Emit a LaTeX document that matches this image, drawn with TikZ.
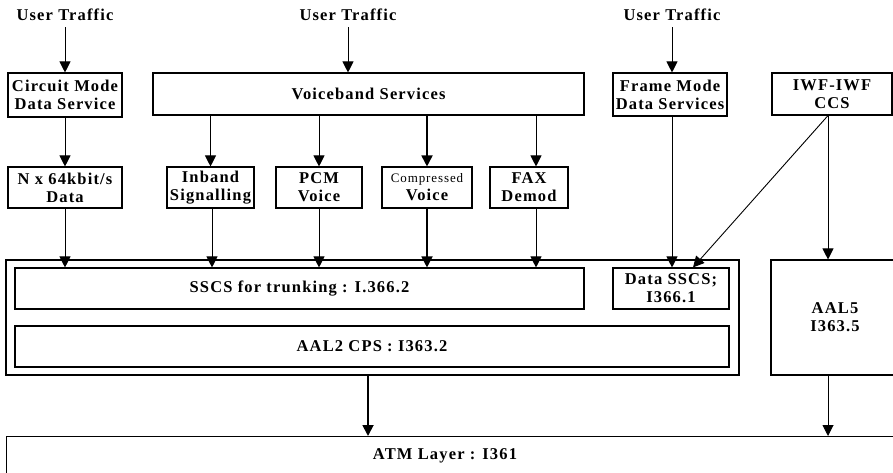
\documentclass[tikz,border=0pt]{standalone}
\usepackage{fontspec}
\setmainfont{Liberation Serif}[LetterSpace=7]
\usetikzlibrary{arrows.meta}
\begin{document}
\begin{tikzpicture}[x=1pt,y=-1pt,
  box/.style={draw,line width=1.1pt,inner sep=0pt,align=center,font=\bfseries\fontsize{16.5}{18}\selectfont},
  lbl/.style={font=\bfseries\fontsize{16.5}{18}\selectfont},
  arr/.style={line width=0.9pt,-{Triangle[length=11pt,width=11pt]}},
  tarr/.style={line width=1.8pt,-{Triangle[length=11pt,width=11pt]}}]
\useasboundingbox (0,0) rectangle (893,472);
\clip (0,0) rectangle (893,472);
% top labels
\node[lbl] (ut1) at (65,15) {User Traffic};
\node[lbl] (ut2) at (348,15) {User Traffic};
\node[lbl] (ut3) at (672,15) {User Traffic};
% row 1 boxes
\node[box,minimum width=114pt,minimum height=44pt] (cm) at (65,95) {Circuit Mode\\Data Service};
\node[box,minimum width=431pt,minimum height=42pt] (vb) at (368.5,94) {Voiceband Services};
\node[box,minimum width=114pt,minimum height=43pt] (fm) at (670,94.5) {Frame Mode\\Data Services};
\node[box,minimum width=120pt,minimum height=42pt] (iwf) at (832,94) {IWF-IWF\\CCS};
% row 2 boxes
\node[box,minimum width=114pt,minimum height=41pt] (nx) at (65,187.5) {N x 64kbit/s\\Data};
\node[box,minimum width=87pt,minimum height=41pt] (inb) at (210.5,187.5) {Inband\\Signalling};
\node[box,minimum width=86pt,minimum height=41pt] (pcm) at (319,187.5) {PCM\\Voice};
\node[box,minimum width=90pt,minimum height=41pt] (cmp) at (427,187.5) {{\mdseries\fontsize{13}{14}\selectfont Compressed}\\Voice};
\node[box,minimum width=78pt,minimum height=41pt] (fax) at (529,187.5) {FAX\\Demod};
% AAL2 block
\node[box,minimum width=733pt,minimum height=115pt] (aal2) at (372.5,317.5) {};
\node[box,minimum width=569pt,minimum height=41pt] (sscs) at (299.5,288.5) {SSCS for trunking : I.366.2};
\node[box,minimum width=714pt,minimum height=41pt] (cps) at (372,346.5) {AAL2 CPS : I363.2};
\node[box,minimum width=116pt,minimum height=41pt] (dsscs) at (671,288.5) {Data SSCS;\\I366.1};
\node[box,minimum width=128pt,minimum height=115pt] (aal5) at (835,317.5) {AAL5\\I363.5};
\node[box,minimum width=892pt,minimum height=40pt,anchor=north west] (atm) at (6,436) {};
\node[lbl] (atmt) at (445,456) {ATM Layer : I361};
% arrows
\draw[arr] (ut1.south) ++(0,3) -- (cm.north);
\draw[arr] (ut2.south) ++(0,3) -- (vb.north -| ut2);
\draw[arr] (ut3.south) ++(0,3) -- (fm.north -| ut3);
\draw[arr] (cm) -- (nx);
\draw[arr] (vb.south -| inb) -- (inb);
\draw[arr] (vb.south -| pcm) -- (pcm);
\draw[tarr] (vb.south -| cmp) -- (cmp);
\draw[arr] (vb.south -| 536,0) -- (fax.north -| 536,0);
\draw[arr] (nx) -- (sscs.north -| nx);
\draw[arr] (inb.south -| 212,0) -- (sscs.north -| 212,0);
\draw[arr] (pcm) -- (sscs.north -| pcm);
\draw[tarr] (cmp) -- (sscs.north -| cmp);
\draw[arr] (fax.south -| 536,0) -- (sscs.north -| 536,0);
\draw[arr] (fm.south -| 672,0) -- (dsscs.north -| 672,0);
\coordinate (iwfb) at (iwf.south -| 828,0);
\draw[arr] (iwfb) -- (dsscs.north -| 693,0);
\draw[arr] (iwfb) -- (aal5.north -| 828,0);
\draw[tarr] (aal2.south -| 368,0) -- (atm.north -| 368,0);
\draw[arr] (aal5.south -| 828,0) -- (atm.north -| 828,0);
\end{tikzpicture}
\end{document}
